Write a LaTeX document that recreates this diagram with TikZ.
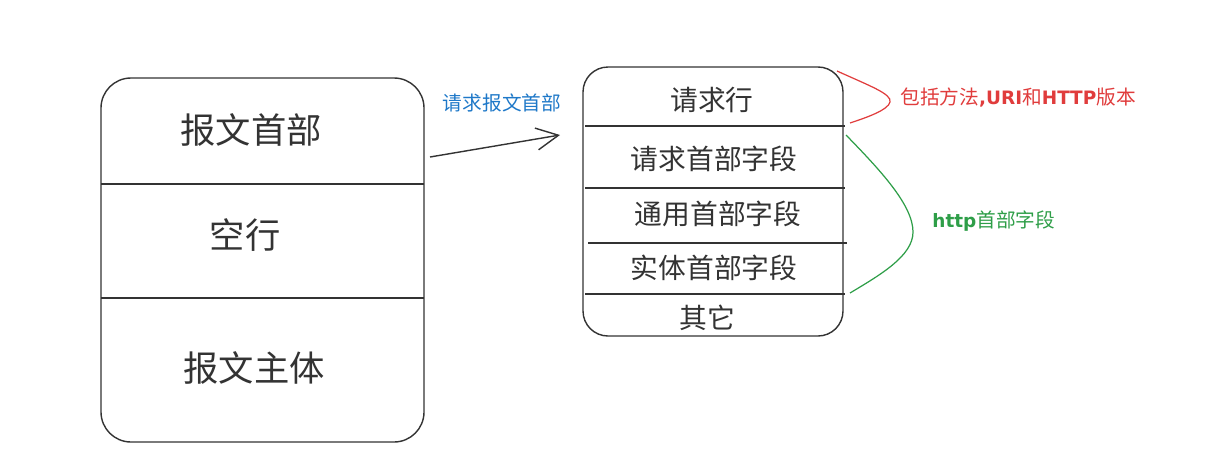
\documentclass[tikz,border=0pt]{standalone}
\usepackage{fontspec}
\setmainfont{Noto Sans CJK SC}
\newfontfamily\latb{DejaVu Sans}
\usetikzlibrary{arrows.meta}
\definecolor{ink}{HTML}{333333}
\definecolor{redtxt}{HTML}{E03C3C}
\definecolor{bluetxt}{HTML}{1E78C8}
\definecolor{greentxt}{HTML}{2E9E48}
\tikzset{
  box/.style={draw=ink, line width=0.8pt},
  divider/.style={draw=ink, line width=0.8pt},
  bigtxt/.style={font=\fontsize{20.1pt}{24pt}\selectfont, text=ink, inner sep=0pt},
  midtxt/.style={font=\fontsize{15.8pt}{19pt}\selectfont, text=ink, inner sep=0pt},
  smalltxt/.style={font=\fontsize{11.2pt}{13pt}\selectfont, inner sep=0pt},
  brace/.style={line width=0.7pt},
}
\newcommand{\lat}[1]{{\latb\bfseries\fontsize{10.5pt}{13pt}\selectfont #1}}
\begin{document}
\begin{tikzpicture}[x=0.02cm,y=-0.02cm]
\useasboundingbox (0,0) rectangle (1222,467);
% left box
\draw[box, rounded corners=0.6cm] (101,78) rectangle (424,442);
\coordinate (l1a) at (101,184); \coordinate (l1b) at (424,184);
\coordinate (l2a) at (101,298); \coordinate (l2b) at (424,298);
\draw[divider] (l1a) -- (l1b);
\draw[divider] (l2a) -- (l2b);
\node[bigtxt] (hdr) at (251,130) {报文首部};
\node[bigtxt] (blank) at (245,235) {空行};
\node[bigtxt] (body) at (254,368) {报文主体};
% right box
\draw[box, rounded corners=0.5cm] (583,67) rectangle (843,336);
\coordinate (r1a) at (585,126); \coordinate (r1b) at (845,126);
\coordinate (r2a) at (585,188); \coordinate (r2b) at (845,188);
\coordinate (r3a) at (588,243); \coordinate (r3b) at (847,243);
\coordinate (r4a) at (585,294); \coordinate (r4b) at (845,294);
\draw[divider] (r1a) -- (r1b);
\draw[divider] (r2a) -- (r2b);
\draw[divider] (r3a) -- (r3b);
\draw[divider] (r4a) -- (r4b);
\node[midtxt] (reqline) at (712,100) {请求行};
\node[midtxt] (reqhdr) at (714,159) {请求首部字段};
\node[midtxt] (genhdr) at (718,214) {通用首部字段};
\node[midtxt] (enthdr) at (714,268) {实体首部字段};
\node[midtxt] (other) at (707,318) {其它};
% arrow
\coordinate (as) at (430,157);
\coordinate (ae) at (560,135);
\draw[ink, line width=0.8pt, -{Straight Barb[length=4.4mm,width=4.4mm]}] (as) -- (ae);
\node[smalltxt, text=bluetxt] (arrlbl) at (502,103) {请求报文首部};
% red brace
\coordinate (rs) at (837,71);
\coordinate (re) at (850,123);
\draw[brace, redtxt] (rs) .. controls (870,86) and (892,94) .. (890,102) .. controls (888,110) and (868,117) .. (re);
\node[smalltxt, text=redtxt, anchor=west] (redlbl) at (900,97) {包括方法\lat{,URI}和\lat{HTTP}版本};
% green brace
\coordinate (gs) at (846,135);
\coordinate (ge) at (850,293);
\draw[brace, greentxt] (gs) .. controls (880,170) and (913,205) .. (913,232) .. controls (913,256) and (880,275) .. (ge);
\node[smalltxt, text=greentxt, anchor=west] (greenlbl) at (932,221) {\lat{http}首部字段};
\end{tikzpicture}
\end{document}
